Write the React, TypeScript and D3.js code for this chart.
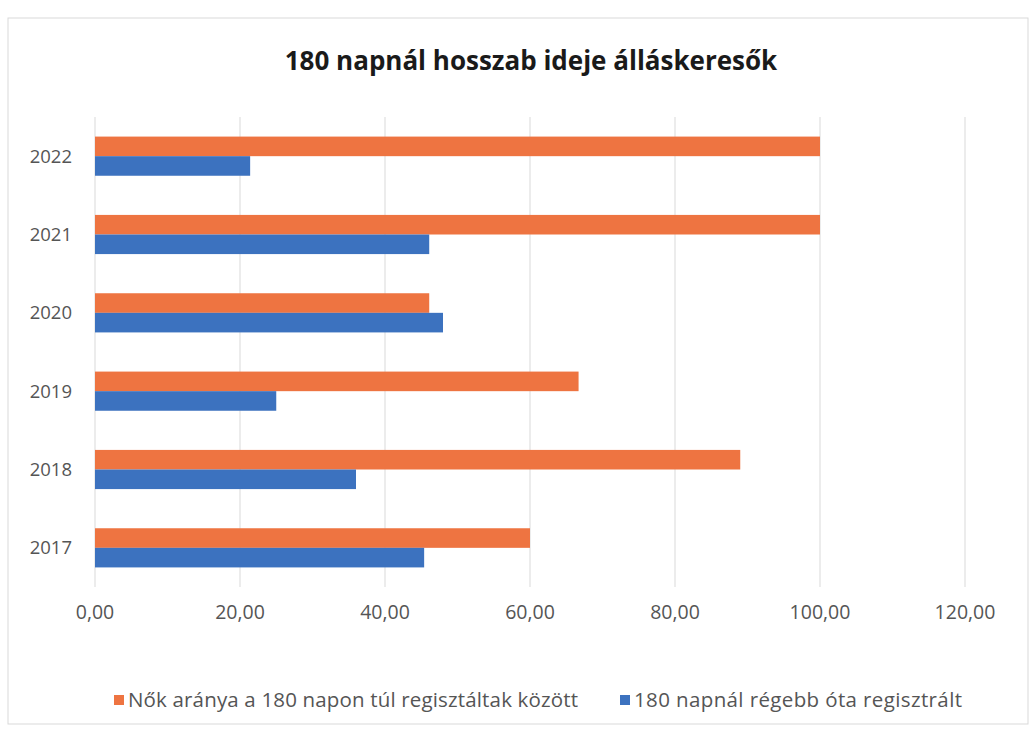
import React from 'react';
import { scaleLinear, scaleBand, format } from 'd3';

// values
const years = ['2017', '2018', '2019', '2020', '2021', '2022'];
const nokAranya = [60.0, 89.0, 66.7, 46.1, 100.0, 100.0];
const regebbOta = [45.4, 36.0, 25.0, 48.0, 46.1, 21.4];
const xTicks = [0, 20, 40, 60, 80, 100, 120];
const seriesNames = [
  'Nők aránya a 180 napon túl regisztáltak között',
  '180 napnál régebb óta regisztrált',
];

const W = 1034;
const H = 731;
const ORANGE = '#EE7441';
const BLUE = '#3C72BF';
const FONT = "'Open Sans', 'Noto Sans', sans-serif";

const App = () => {
  const plot = { left: 95, right: 965, top: 117, bottom: 587 };

  const xScale = scaleLinear().domain([0, 120]).range([plot.left, plot.right]);
  // 2022 on top, like excel does for bar charts
  const yScale = scaleBand()
    .domain([...years].reverse())
    .range([plot.top, plot.bottom])
    .paddingInner(0.5)
    .paddingOuter(0.25);
  const inner = scaleBand().domain(['nok', 'regebb']).range([0, yScale.bandwidth()]);

  const fmt = (v: number) => format('.2f')(v).replace('.', ',');

  return (
    <svg
      width={W}
      height={H}
      style={{ position: 'absolute', left: 0, top: 0, background: '#fff' }}
      fontFamily={FONT}
    >
      <rect x={8} y={18} width={1020} height={706} fill="none" stroke="#d9d9d9" />

      <text x={531} y={70} textAnchor="middle" fontSize={26} fontWeight="bold" fill="#1a1a1a">
        180 napnál hosszab ideje álláskeresők
      </text>

      {xTicks.map(t => (
        <line key={t} x1={xScale(t)} x2={xScale(t)} y1={plot.top} y2={plot.bottom}
          stroke="#d9d9d9" strokeWidth={1} />
      ))}

      {years.map((yr, i) => (
        <g key={yr}>
          <rect x={xScale(0)} y={yScale(yr)! + inner('nok')!}
            width={xScale(nokAranya[i]) - xScale(0)} height={inner.bandwidth()} fill={ORANGE} />
          <rect x={xScale(0)} y={yScale(yr)! + inner('regebb')!}
            width={xScale(regebbOta[i]) - xScale(0)} height={inner.bandwidth()} fill={BLUE} />
          <text x={72} y={yScale(yr)! + yScale.bandwidth() / 2} dy="0.35em" textAnchor="end"
            fontSize={18.5} fill="#555">{yr}</text>
        </g>
      ))}

      {xTicks.map(t => (
        <text key={t} x={xScale(t)} y={619} textAnchor="middle" fontSize={19.5} fill="#555">
          {fmt(t)}
        </text>
      ))}

      <g fill="#555">
        <rect x={114} y={695} width={10} height={10} fill={ORANGE} />
        <text x={128} y={700} dy="0.35em" fontSize={20.5} textLength={450}>{seriesNames[0]}</text>
        <rect x={620} y={695} width={10} height={10} fill={BLUE} />
        <text x={634} y={700} dy="0.35em" fontSize={20.5} textLength={328}>{seriesNames[1]}</text>
      </g>
    </svg>
  );
};

export default App;
